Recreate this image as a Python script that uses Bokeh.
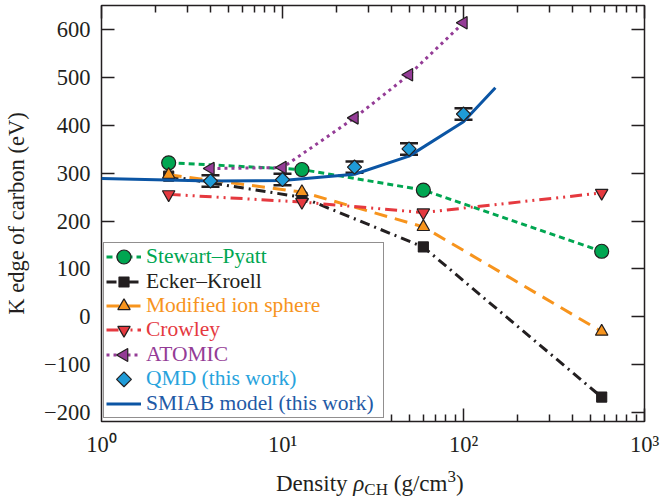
import math
from bokeh.plotting import figure
from bokeh.layouts import column
from bokeh.models import (LogAxis, LinearAxis, FixedTicker, Legend, LegendItem, Div,
                          Whisker, TeeHead, ColumnDataSource, Range1d)
from bokeh.embed import file_html
from bokeh.resources import INLINE

FONT = "Liberation Serif"
INK = "#231f20"

# ---------------- data ----------------
theory_x = [2.35, 12.8, 60, 580]
stewart_pyatt_y = [322, 308, 265, 137]
ecker_kroell_y = [294, 250, 146, -168]
ion_sphere_y = [297, 261, 188, -31]
crowley_y = [256, 240, 218, 259]

atomic_x = [4, 10, 25, 50, 100]
atomic_y = [310, 312, 416, 506, 615]

qmd_x = [4, 10, 25, 50, 100]
qmd_y = [284, 287, 313, 351, 424]
qmd_err = [12, 12, 12, 12, 12]

smiab_x = [1, 4, 10, 25, 50, 100, 150]
smiab_y = [289, 284, 285, 298, 336, 408, 479]

x_ticks = [1, 10, 100, 1000]
x_tick_labels = ["10\u2070", "10\u00b9", "10\u00b2", "10\u00b3"]
x_minor = [m * 10 ** k for k in range(3) for m in range(2, 10)]
y_ticks = [-200, -100, 0, 100, 200, 300, 400, 500, 600]
y_tick_labels = ["\u2212200", "\u2212100", "0", "100", "200", "300", "400", "500", "600"]

names = ["Stewart\u2013Pyatt", "Ecker\u2013Kroell", "Modified ion sphere", "Crowley",
         "ATOMIC", "QMD (this work)", "SMIAB model (this work)"]
colors = ["#00a651", "#231f20", "#f7941d", "#e5393f", "#943c96", "#1f9bd7", "#0b55a4"]
text_colors = ["#00a651", "#231f20", "#f7941d", "#e5393f", "#943c96", "#27a3dd", "#1f5aa6"]

X0, X1, Y0, Y1 = 1, 1000, -219, 651
FRAME_W, FRAME_H = 661 - 101 - 17, 472 - 51 - 5

p = figure(width=661, height=472, x_axis_type="log",
           x_range=Range1d(X0, X1), y_range=Range1d(Y0, Y1),
           output_backend="svg", toolbar_location=None,
           min_border_left=101, min_border_right=17, min_border_top=5, min_border_bottom=51)
p.grid.visible = False
p.outline_line_color = INK
p.outline_line_width = 1.5
p.outline_line_alpha = 1.0


def style_axis(ax, show, ticks=True):
    ax.axis_line_color = None
    ax.major_tick_in = 13 if ticks else 0
    ax.major_tick_out = 0
    ax.minor_tick_in = 7 if ticks else 0
    ax.minor_tick_out = 0
    ax.major_tick_line_color = INK if ticks else None
    ax.minor_tick_line_color = INK if ticks else None
    ax.major_tick_line_width = 1.5
    ax.minor_tick_line_width = 1.5
    if show:
        ax.major_label_text_font = FONT
        ax.major_label_text_font_size = "22.5px"
        ax.major_label_text_color = INK
    else:
        ax.major_label_text_font_size = "1px"
        ax.major_label_text_alpha = 0
        ax.major_label_standoff = 0


xt = FixedTicker(ticks=x_ticks, minor_ticks=x_minor)
yt = FixedTicker(ticks=y_ticks, minor_ticks=[])
# tick marks hidden behind the legend box are left out (the box covers them)
xt_visible = FixedTicker(ticks=[t for t in x_ticks if t >= 100],
                         minor_ticks=[t for t in x_minor if t >= 40])
yt_visible = FixedTicker(ticks=[t for t in y_ticks if t >= 200], minor_ticks=[])

# labels-only bottom/left axes
xa = p.xaxis[0]
xa.ticker = xt
xa.major_label_overrides = dict(zip(x_ticks, x_tick_labels))
style_axis(xa, True, ticks=False)
xa.major_label_standoff = 10

ya = p.yaxis[0]
ya.ticker = yt
ya.major_label_overrides = dict(zip(y_ticks, y_tick_labels))
style_axis(ya, True, ticks=False)
ya.major_label_standoff = 11
ya.axis_label = "K edge of carbon (eV)"
ya.axis_label_text_font = FONT
ya.axis_label_text_font_size = "22.5px"
ya.axis_label_text_font_style = "normal"
ya.axis_label_text_color = INK
ya.axis_label_standoff = 12

# tick-only axes next to the frame
xticks_ax = LogAxis(ticker=xt_visible)
style_axis(xticks_ax, False)
xticks_ax.major_label_overrides = {t: "" for t in xt_visible.ticks}
yticks_ax = LinearAxis(ticker=yt_visible)
style_axis(yticks_ax, False)
yticks_ax.major_label_overrides = {t: "" for t in yt_visible.ticks}
p.below = [xticks_ax, xa]
p.left = [yticks_ax, ya]

top = LogAxis(ticker=xt)
style_axis(top, False)
top.major_label_overrides = {t: "" for t in x_ticks}
p.add_layout(top, "above")
right = LinearAxis(ticker=yt)
style_axis(right, False)
right.major_label_overrides = {t: "" for t in y_ticks}
p.add_layout(right, "right")

# ---------------- series ----------------
def series(x, y, color, dash, marker, size, angle=0.0):
    src = ColumnDataSource(dict(x=x, y=y))
    ln = p.line("x", "y", source=src, line_color=color, line_width=3, line_dash=dash)
    sc = p.scatter("x", "y", source=src, marker=marker, size=size, angle=angle,
                   fill_color=color, line_color=INK, line_width=1.2)
    return ln, sc

sp = series(theory_x, stewart_pyatt_y, colors[0], "6 4", "circle", 14)
ek = series(theory_x, ecker_kroell_y, colors[1], "10 5 2 5", "square", 10)
mi = series(theory_x, ion_sphere_y, colors[2], "13 8", "triangle", 12.5)
cr = series(theory_x, crowley_y, colors[3], "12 5 2 5 2 5", "inverted_triangle", 12.5)
at = series(atomic_x, atomic_y, colors[4], "3 4", "triangle", 12.5, angle=math.pi / 2)

sm_src = ColumnDataSource(dict(x=smiab_x, y=smiab_y))
sm = p.line("x", "y", source=sm_src, line_color=colors[6], line_width=3)

q_src = ColumnDataSource(dict(x=qmd_x, y=qmd_y,
                              upper=[v + e for v, e in zip(qmd_y, qmd_err)],
                              lower=[v - e for v, e in zip(qmd_y, qmd_err)]))
wh = Whisker(source=q_src, base="x", upper="upper", lower="lower", dimension="height",
             line_color=INK, line_width=2,
             upper_head=TeeHead(size=18, line_color=INK, line_width=2.5),
             lower_head=TeeHead(size=18, line_color=INK, line_width=2.5))
p.add_layout(wh)
qm = p.scatter("x", "y", source=q_src, marker="square", size=10, angle=math.pi / 4,
               fill_color=colors[5], line_color=INK, line_width=1.2)

# ---------------- legend ----------------
dummy = p.line([1, 1], [0, 0], line_alpha=0)

PAD = 3
ROW = 24
LX = 2
GW = 35
base = Legend(items=[LegendItem(label=" ", renderers=[dummy]) for _ in names],
              location=(LX, 3), padding=PAD, margin=0, spacing=0,
              glyph_width=GW, glyph_height=ROW, label_height=ROW, label_width=233,
              label_standoff=5, label_text_font_size="10px", label_text_alpha=0,
              border_line_color=INK, border_line_width=1.5,
              background_fill_alpha=0)
p.add_layout(base)

row_cy = [164.3 - 24.43 * i for i in range(len(names))]
entries = [list(sp), list(ek), list(mi), list(cr), [dummy], [dummy], [sm]]
gh = [35, 25, 31, 31, 25, 25, 25]
for n, rs, tc, g, cy in zip(names, entries, text_colors, gh, row_cy):
    leg = Legend(items=[LegendItem(label=n, renderers=rs)],
                 location=(LX, cy - PAD - g / 2), padding=PAD, margin=0, spacing=0,
                 glyph_width=GW, glyph_height=g, label_height=g,
                 label_standoff=5, label_text_font=FONT, label_text_font_size="21.5px",
                 label_text_color=tc, border_line_alpha=0, background_fill_alpha=0)
    p.add_layout(leg)

# rotated legend samples (legend glyphs cannot be rotated), placed from the legend layout
def frame_to_data(fx, fy):
    x = 10 ** (math.log10(X0) + fx / FRAME_W * (math.log10(X1) - math.log10(X0)))
    y = Y0 + fy / FRAME_H * (Y1 - Y0)
    return x, y

gx0, gx1 = LX + PAD, LX + PAD + GW
gxc = (gx0 + gx1) / 2
la, ly = frame_to_data(gx0, row_cy[4])
lb, _ = frame_to_data(gx1, row_cy[4])
p.line([la, lb], [ly, ly], line_color=colors[4], line_width=3, line_dash="3 4")
ax_, ay_ = frame_to_data(gxc, row_cy[4])
qx_, qy_ = frame_to_data(gxc, row_cy[5])
p.scatter([ax_], [ay_], marker="triangle", size=13, angle=math.pi / 2,
          fill_color=colors[4], line_color=INK, line_width=1.2)
p.scatter([qx_], [qy_], marker="square", size=10.5, angle=math.pi / 4,
          fill_color=colors[5], line_color=INK, line_width=1.2)

# ---------------- x-axis label (HTML strip below the plot) ----------------
xlabel_html = (
    '<div style="position:relative;width:661px;height:28px;'
    "font-family:'Liberation Serif',serif;color:#231f20;\">"
    '<span style="position:absolute;left:276px;top:0px;font-size:23px;line-height:23px;'
    'white-space:nowrap;">Density <i>\u03c1</i>'
    '<span style="font-size:17px;position:relative;top:4px;">CH</span> (g/cm'
    '<span style="font-size:17px;position:relative;top:-9px;">3</span>)</span></div>'
)
xlabel = Div(text=xlabel_html, width=661, height=28, margin=0)

layout = column(p, xlabel, spacing=0)
open("out.html", "w").write(file_html(layout, INLINE))
